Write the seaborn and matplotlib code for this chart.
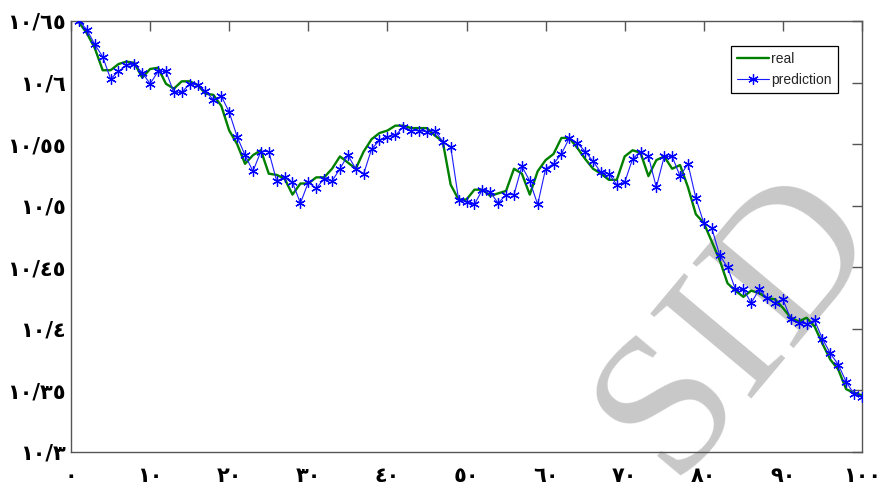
import matplotlib
matplotlib.use('Agg')
import matplotlib.pyplot as plt
import seaborn as sns
import pandas as pd

# === dados ===
steps = list(range(1, 101))

real = [10.649, 10.640, 10.628, 10.610, 10.610, 10.615, 10.617, 10.616, 10.604, 10.611,
        10.612, 10.599, 10.595, 10.601, 10.601, 10.598, 10.591, 10.590, 10.581, 10.561,
        10.550, 10.534, 10.541, 10.545, 10.526, 10.525, 10.522, 10.509, 10.518, 10.518,
        10.523, 10.523, 10.530, 10.540, 10.535, 10.530, 10.544, 10.554, 10.559, 10.561,
        10.565, 10.565, 10.563, 10.563, 10.563, 10.557, 10.552, 10.517, 10.505, 10.505,
        10.513, 10.513, 10.508, 10.510, 10.512, 10.530, 10.526, 10.509, 10.528, 10.537,
        10.542, 10.555, 10.555, 10.547, 10.538, 10.530, 10.526, 10.521, 10.521, 10.540,
        10.545, 10.543, 10.524, 10.537, 10.540, 10.530, 10.533, 10.515, 10.493, 10.486,
        10.471, 10.456, 10.437, 10.431, 10.426, 10.431, 10.429, 10.425, 10.424, 10.417,
        10.409, 10.406, 10.409, 10.402, 10.388, 10.375, 10.367, 10.351, 10.348, 10.346]

prediction = [10.650, 10.643, 10.631, 10.621, 10.603, 10.609, 10.614, 10.615, 10.608, 10.599,
              10.609, 10.609, 10.592, 10.592, 10.599, 10.598, 10.593, 10.586, 10.589, 10.576,
              10.556, 10.541, 10.528, 10.544, 10.544, 10.520, 10.523, 10.519, 10.502, 10.519,
              10.514, 10.522, 10.520, 10.530, 10.541, 10.530, 10.526, 10.546, 10.553, 10.556,
              10.557, 10.564, 10.561, 10.561, 10.560, 10.561, 10.552, 10.548, 10.505, 10.503,
              10.501, 10.513, 10.511, 10.502, 10.509, 10.509, 10.532, 10.520, 10.501, 10.530,
              10.534, 10.542, 10.555, 10.551, 10.544, 10.536, 10.527, 10.526, 10.517, 10.519,
              10.538, 10.544, 10.540, 10.515, 10.540, 10.540, 10.524, 10.534, 10.506, 10.486,
              10.482, 10.460, 10.450, 10.432, 10.432, 10.421, 10.432, 10.425, 10.421, 10.424,
              10.408, 10.405, 10.404, 10.407, 10.392, 10.380, 10.371, 10.357, 10.347, 10.345]

xticks = [0, 10, 20, 30, 40, 50, 60, 70, 80, 90, 100]
xtick_labels = ['٠', '١٠', '٢٠', '٣٠', '٤٠', '٥٠', '٦٠', '٧٠', '٨٠', '٩٠', '١٠٠']
yticks = [10.30, 10.35, 10.40, 10.45, 10.50, 10.55, 10.60, 10.65]
ytick_labels = ['١٠/٣', '١٠/٣٥', '١٠/٤', '١٠/٤٥', '١٠/٥', '١٠/٥٥', '١٠/٦', '١٠/٦٥']

df = pd.DataFrame({'passo': steps, 'real': real, 'prediction': prediction})

sns.set_style('white')
plt.rcParams['font.family'] = ['DejaVu Sans']

fig = plt.figure(figsize=(8.89, 4.90), dpi=100)
ax = fig.add_axes([0.0799, 0.0776, 0.8897, 0.8796])

# marca d'água
ax.text(0.83, 0.34, 'SID', transform=fig.transFigure, rotation=50,
        fontsize=145, family='Liberation Serif',
        color='#c8c8c8', ha='center', va='center', zorder=0)

sns.lineplot(data=df, x='passo', y='real', color='#008000', lw=1.7,
             label='real', estimator=None, ax=ax, zorder=3)
sns.lineplot(data=df, x='passo', y='prediction', color='#1a1aff', lw=0.8,
             marker=(6, 2, 0), markersize=7.5, markeredgewidth=0.9,
             markeredgecolor='blue', label='prediction', estimator=None,
             ax=ax, zorder=4)

ax.set_xlim(0, 100)
ax.set_ylim(10.3, 10.65)
ax.set_xticks(xticks)
ax.set_xticklabels(xtick_labels, fontweight='bold')
ax.set_yticks(yticks)
ax.set_yticklabels(ytick_labels, fontweight='bold')
ax.set_xlabel('')
ax.set_ylabel('')

for s in ax.spines.values():
    s.set_visible(True)
    s.set_color('#555555')
    s.set_linewidth(1.0)

ax.tick_params(axis='both', direction='in', length=7, width=1, color='#555555',
               top=True, right=True, labelsize=15, labelcolor='black')
ax.tick_params(axis='x', pad=10)
ax.tick_params(axis='y', pad=4)

leg = ax.legend(loc='upper right', bbox_to_anchor=(0.970, 0.942), borderaxespad=0,
                fancybox=False, framealpha=1, edgecolor='black', handlelength=2.3,
                handletextpad=0.15, borderpad=0.45, labelspacing=0.5,
                prop={'family': 'Liberation Sans', 'size': 10})
leg.get_frame().set_linewidth(0.9)

plt.savefig('out.png', dpi=100)
